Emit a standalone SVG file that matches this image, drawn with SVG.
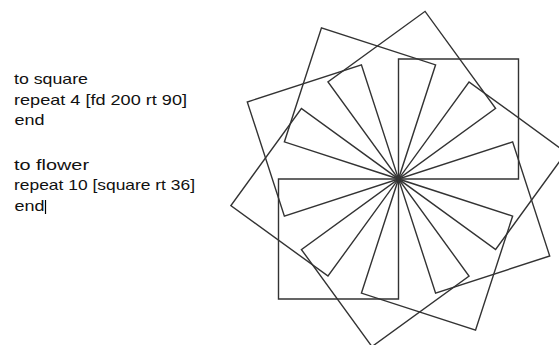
<svg xmlns="http://www.w3.org/2000/svg" width="559" height="345" viewBox="0 0 559 345">
<style>
.t{font-family:"Liberation Sans",Arial,sans-serif;font-size:14.5px;fill:#111;}
.sq{fill:none;stroke:#333;stroke-width:1.4;stroke-linejoin:miter;}
</style>
<defs>
<path id="sqp" d="M0,0 L0,-120 L120,-120 L120,0 Z"/>
</defs>
<rect width="559" height="345" fill="#fff"/>
<g id="code">
<text class="t" x="14" y="84" textLength="74" lengthAdjust="spacingAndGlyphs">to square</text>
<text class="t" x="14" y="104.5" textLength="173" lengthAdjust="spacingAndGlyphs">repeat 4 [fd 200 rt 90]</text>
<text class="t" x="14.5" y="125" textLength="30" lengthAdjust="spacingAndGlyphs">end</text>
<text class="t" x="14" y="170" textLength="75" lengthAdjust="spacingAndGlyphs">to flower</text>
<text class="t" x="14" y="190" textLength="181" lengthAdjust="spacingAndGlyphs">repeat 10 [square rt 36]</text>
<text class="t" x="14.5" y="210.5" textLength="30" lengthAdjust="spacingAndGlyphs">end</text>
<line x1="45.5" y1="200" x2="45.5" y2="214" stroke="#000" stroke-width="1.2"/>
</g>
<g id="flower" transform="translate(398.5,179)">
<use class="sq" href="#sqp" transform="rotate(0)"/>
<use class="sq" href="#sqp" transform="rotate(36)"/>
<use class="sq" href="#sqp" transform="rotate(72)"/>
<use class="sq" href="#sqp" transform="rotate(108)"/>
<use class="sq" href="#sqp" transform="rotate(144)"/>
<use class="sq" href="#sqp" transform="rotate(180)"/>
<use class="sq" href="#sqp" transform="rotate(216)"/>
<use class="sq" href="#sqp" transform="rotate(252)"/>
<use class="sq" href="#sqp" transform="rotate(288)"/>
<use class="sq" href="#sqp" transform="rotate(324)"/>
</g>
</svg>
